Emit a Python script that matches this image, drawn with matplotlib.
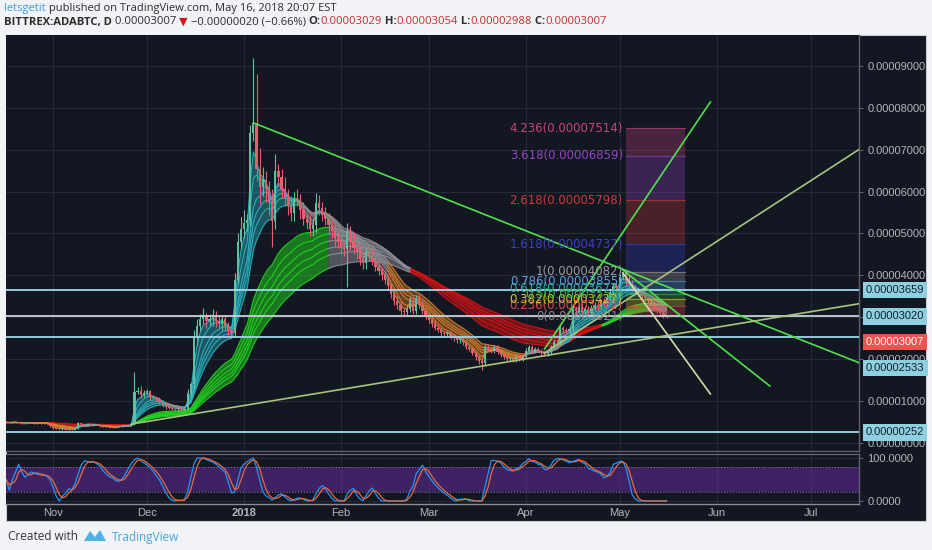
import numpy as np
import pandas as pd
import matplotlib
matplotlib.use('Agg')
import matplotlib.pyplot as plt
from matplotlib.patches import Rectangle, Polygon
from matplotlib.transforms import blended_transform_factory, offset_copy

W, H = 932, 550

# ADABTC daily closes in satoshi (1e-8 BTC), 17 Oct 2017 .. 16 May 2018
close_oct = [490, 480, 490, 500, 480, 470, 480, 490, 480, 470, 480, 470, 460, 470, 400]
close_nov = [350, 340, 330, 360, 320, 330, 310, 340, 470, 450, 440, 460, 440, 450, 430,
             400, 380, 390, 370, 360, 380, 400, 410, 420, 430, 450, 1220, 1250, 1150, 1200]
close_dec = [1230, 1100, 1080, 1050, 980, 900, 850, 840, 820, 800, 830, 790, 810, 1190, 1400,
             2500, 2800, 2950, 3000, 2900, 2950, 3050, 2900, 2850, 2950, 2800, 2700, 2620, 3900, 4800, 5100]
close_jan = [5250, 5320, 7400, 7640, 6550, 6100, 6280, 6050, 5750, 5300, 6500, 6350, 6050, 5850, 5650,
             5500, 5850, 5800, 5550, 5350, 5250, 5100, 5200, 5730, 5600, 5440, 5350, 5200, 5050, 4900, 4800]
close_feb = [4650, 4620, 5040, 4800, 4650, 4550, 4400, 4300, 4530, 4450, 4350, 4200, 4100, 4000,
             3900, 3750, 3550, 3400, 3300, 3150, 3130, 3200, 3410, 3150, 3460, 3300, 3150, 3050]
close_mar = [2940, 2850, 2750, 2700, 2620, 2600, 2620, 2550, 2500, 2450, 2480, 2400, 2300, 2250, 2150,
             2050, 1950, 1900, 2300, 2250, 2200, 2280, 2180, 2100, 2050, 2000, 2020, 1980, 2050, 2000, 2060]
close_apr = [2200, 2280, 2180, 2250, 2200, 2150, 2120, 2180, 2300, 2420, 2400, 2750, 2700, 2680, 2720,
             3200, 3150, 3250, 3120, 3200, 3100, 3220, 3300, 3250, 3380, 3350, 3480, 3600, 3750, 3700]
close_may = [3950, 4060, 3850, 3800, 3700, 3620, 3580, 3500, 3450, 3380, 3300, 3220, 3150, 3100, 3029, 3007]
first_open = 500

# upper / lower wick lengths in satoshi
up_oct = [10, 10, 15, 10, 10, 8, 10, 12, 10, 10, 8, 10, 10, 8, 10]
up_nov = [8, 10, 8, 20, 8, 10, 8, 15, 20, 10, 8, 12, 8, 10, 8, 10, 8, 10, 8, 8, 10, 12, 10, 8, 8, 10, 480, 80, 100, 60]
up_dec = [60, 40, 50, 40, 40, 50, 30, 30, 30, 30, 40, 30, 30, 110, 50, 200, 150, 120, 220, 100, 120, 150, 100, 120,
          80, 100, 80, 60, 150, 200, 300]
up_jan = [300, 150, 200, 1560, 1160, 500, 300, 200, 200, 300, 400, 150, 200, 300, 200, 250, 150, 200, 150, 200,
          150, 200, 150, 240, 200, 150, 200, 150, 150, 200, 150]
up_feb = [150, 150, 200, 150, 200, 150, 150, 150, 150, 200, 150, 120, 120, 100, 100, 100, 100, 100, 100, 100,
          80, 100, 80, 100, 80, 100, 80, 80]
up_mar = [80, 80, 60, 60, 60, 50, 60, 50, 60, 50, 60, 50, 50, 50, 50, 50, 50, 50, 40, 50, 50, 60, 50, 40, 40,
          40, 40, 40, 40, 40, 50]
up_apr = [60, 50, 50, 50, 50, 40, 40, 40, 50, 60, 40, 60, 50, 50, 60, 80, 80, 100, 80, 80, 80, 80, 60, 80, 60,
          80, 80, 80, 80, 80]
up_may = [80, 22, 80, 150, 80, 60, 60, 60, 60, 60, 50, 50, 50, 50, 25, 25]

lo_oct = [10, 10, 8, 10, 10, 10, 8, 10, 10, 8, 10, 10, 8, 10, 15]
lo_nov = [15, 10, 10, 8, 15, 8, 10, 8, 10, 10, 8, 10, 8, 10, 10, 10, 8, 10, 10, 8, 8, 8, 10, 8, 8, 8, 20, 60, 80, 60]
lo_dec = [60, 80, 50, 40, 60, 50, 40, 40, 40, 40, 30, 40, 30, 30, 80, 100, 150, 120, 100, 150, 100, 150, 120, 100,
          150, 120, 150, 100, 80, 100, 200]
lo_jan = [200, 200, 150, 200, 300, 400, 200, 300, 300, 620, 200, 200, 200, 200, 200, 200, 200, 150, 200, 150,
          150, 150, 150, 200, 150, 150, 150, 200, 150, 200, 150]
lo_feb = [150, 150, 900, 200, 150, 150, 150, 150, 150, 100, 100, 100, 100, 100, 100, 100, 100, 100, 100, 100,
          80, 80, 80, 80, 80, 80, 80, 80]
lo_mar = [80, 80, 60, 60, 60, 60, 60, 60, 60, 60, 60, 50, 50, 50, 60, 60, 60, 160, 60, 50, 50, 50, 50, 50, 40,
          40, 40, 40, 40, 40, 40]
lo_apr = [40, 40, 50, 40, 40, 40, 40, 50, 50, 50, 40, 60, 60, 60, 60, 80, 80, 80, 80, 80, 80, 80, 60, 80, 60,
          80, 80, 80, 80, 80]
lo_may = [80, 60, 80, 80, 80, 80, 60, 60, 60, 60, 60, 60, 50, 50, 40, 19]

# horizontal levels drawn on the chart
hlines = [0.00003659, 0.00003020, 0.00002533, 0.00000252]
last_price = 0.00003007

# fib extension
fib_zero, fib_one = 0.000030214, 0.000040820
fib_levels = [0, 0.236, 0.382, 0.5, 0.618, 0.786, 1, 1.618, 2.618, 3.618, 4.236]
fib_from, fib_to = '2018-05-03', '2018-05-22'

# trend lines (anchor dates / prices)
tl_d0 = ['2018-01-04', '2018-04-07', '2018-04-07', '2018-05-02', '2018-05-02', '2017-11-26']
tl_p0 = [0.0000764, 0.0000224, 0.0000215, 0.0000413, 0.0000406, 0.0000045]
tl_d1 = ['2018-07-17', '2018-05-30', '2018-07-17', '2018-06-18', '2018-05-30', '2018-07-17']
tl_p1 = [0.0000190, 0.0000814, 0.0000703, 0.0000136, 0.0000117, 0.0000333]

months = ['Nov', 'Dec', '2018', 'Feb', 'Mar', 'Apr', 'May', 'Jun', 'Jul']

# ---------------------------------------------------------------
closes = np.array(close_oct + close_nov + close_dec + close_jan + close_feb + close_mar + close_apr + close_may) * 1e-8
upw = np.array(up_oct + up_nov + up_dec + up_jan + up_feb + up_mar + up_apr + up_may) * 1e-8
low_w = np.array(lo_oct + lo_nov + lo_dec + lo_jan + lo_feb + lo_mar + lo_apr + lo_may) * 1e-8
opens = np.r_[first_open * 1e-8, closes[:-1]]
highs = np.maximum(opens, closes) + upw
lows = np.minimum(opens, closes) - low_w

t0 = pd.Timestamp('2018-01-01')
dates = pd.date_range('2017-10-17', periods=len(closes), freq='D')
x = (dates - t0).days.values.astype(float)
def dnum(s):
    return (pd.Timestamp(s) - t0).days

s = pd.Series(closes)
fast = np.array([s.ewm(span=n, adjust=False).mean().values for n in (3, 5, 8, 10, 12, 15)])
slow = np.array([s.ewm(span=n, adjust=False).mean().values for n in (30, 35, 40, 45, 50, 60)])
f_state = np.where((fast[0] > fast[-1]) & (fast[-1] > slow[0]), 1,
                   np.where((fast[0] < fast[-1]) & (fast[-1] < slow[-1]), -1, 0))
slope = np.r_[0, np.diff(slow[0])]
s_state = np.where((slow[0] > slow[-1]) & (slope > 0), 1, np.where(slow[0] < slow[-1], -1, 0))

# stochastic RSI 14/14/3/3
delta = s.diff().fillna(0)
ag = delta.clip(lower=0).ewm(alpha=1/14, adjust=False).mean()
al = (-delta.clip(upper=0)).ewm(alpha=1/14, adjust=False).mean()
rsi = 100 - 100 / (1 + ag / al.replace(0, np.nan))
rsi = rsi.fillna(50)
rl = rsi.rolling(14, min_periods=1).min()
rh = rsi.rolling(14, min_periods=1).max()
st = (100 * (rsi - rl) / (rh - rl).replace(0, np.nan)).fillna(50)
k = st.rolling(3, min_periods=1).mean()
d = k.rolling(3, min_periods=1).mean()

# ---------------------------------------------------------------
BG = '#131722'
GRID = '#262a35'
TXT = '#b2b5be'
fig = plt.figure(figsize=(W / 100, H / 100), dpi=100)
fig.patch.set_facecolor('#f1f3f6')
fig.patches.append(Rectangle((6 / W, 1 - 521 / H), 920 / W, 486 / H, transform=fig.transFigure,
                             facecolor=BG, edgecolor='#c9ccd3', lw=0.8, zorder=-5))

ax = fig.add_axes([6 / W, 1 - 451 / H, 853 / W, 416 / H])
ax2 = fig.add_axes([6 / W, 1 - 504 / H, 853 / W, 50 / H])
xl = ((6 - 244) / 3.13, (859 - 244) / 3.13)
month_x = [dnum(m) for m in pd.date_range('2017-11-01', '2018-07-01', freq='MS')]

for a in (ax, ax2):
    a.set_facecolor(BG)
    a.set_xlim(*xl)
    a.set_xticks(month_x)
    a.grid(True, color=GRID, lw=0.8)
    a.set_axisbelow(True)
    for sp in ('top', 'left'):
        a.spines[sp].set_visible(False)
    for sp in ('right', 'bottom'):
        a.spines[sp].set_color('#5d606b')
        a.spines[sp].set_linewidth(1.0)
    a.yaxis.tick_right()
    a.tick_params(axis='y', colors=TXT, labelsize=8, length=3, pad=3, color='#5d606b')
    a.tick_params(axis='x', length=0)
ax2.spines['top'].set_visible(True)
ax2.spines['top'].set_color('#6b6e78')
ax2.spines['bottom'].set_color('#8a8d96')

ax.set_ylim(-0.191e-5, 9.737e-5)
ax.set_yticks(np.arange(0, 9.5e-5, 1e-5))
ax.set_yticklabels([f'{v:.8f}' for v in np.arange(0, 9.5e-5, 1e-5)], family='Liberation Sans')
ax.set_xticklabels([])

# Guppy ribbons
def ribbon(lines, state, colors, alpha):
    lo, hi = lines.min(axis=0), lines.max(axis=0)
    for key, col in colors.items():
        m = state == key
        m = m | np.r_[m[1:], False]
        ax.fill_between(x, lo, hi, where=m, color=col, alpha=alpha, lw=0, zorder=2)
        for ln in lines:
            ax.plot(x, np.where(m, ln, np.nan), color=col, lw=0.8, alpha=0.9, zorder=2)

ribbon(slow, s_state, {1: '#22d81e', -1: '#d81313', 0: '#8f9196'}, 0.5)
ribbon(fast, f_state, {1: '#2ab7c6', -1: '#d9822b', 0: '#8f9196'}, 0.4)

# candles
up = closes >= opens
ccol = np.where(up, '#5fbf9f', '#e8606e')
ax.vlines(x, lows, highs, colors=ccol, lw=0.8, zorder=3)
ax.bar(x, np.maximum(np.abs(closes - opens), 2e-8), bottom=np.minimum(opens, closes), width=0.7,
       color=ccol, lw=0, zorder=3)

# horizontal lines
hl_cols = ['#9fd8ea', '#c8d2da', '#9fd8ea', '#9fd8ea']
for v, c in zip(hlines, hl_cols):
    ax.axhline(v, color=c, lw=1.3, zorder=4)

# fib extension
fib_cols = ['#8a8a8a', '#e04848', '#c8c838', '#40b040', '#30b0a0', '#5aa0e0', '#9a9a9a',
            '#3b3fc8', '#c83c3c', '#9545c0', '#c8457c']
fx0, fx1 = dnum(fib_from), dnum(fib_to)
fib_p = [fib_zero + lv * (fib_one - fib_zero) for lv in fib_levels]
for i in range(1, len(fib_p)):
    ax.fill_between([fx0, fx1], fib_p[i - 1], fib_p[i], color=fib_cols[i], alpha=0.3, lw=0, zorder=3.5)
lab_tr = offset_copy(ax.transData, fig=fig, x=-3, y=0, units='dots')
for lv, p, c in zip(fib_levels, fib_p, fib_cols):
    ax.plot([fx0, fx1], [p, p], color=c, lw=0.9, alpha=0.6, zorder=3.6)
    ax.text(fx0, p, f'{lv:g}({p:.8f})', color=c, fontsize=8.5, ha='right', va='center',
            transform=lab_tr, zorder=6)

# trend lines
tl_cols = ['#4fe04f', '#4fe04f', '#a9c27e', '#4fe04f', '#d8d8aa', '#a9c27e']
for a0, p0, a1, p1, c in zip(tl_d0, tl_p0, tl_d1, tl_p1, tl_cols):
    ax.plot([dnum(a0), dnum(a1)], [p0, p1], color=c, lw=1.2, zorder=5)

# right axis labels
bt = blended_transform_factory(ax.transAxes, ax.transData)
lab_dy = [0, 0, -31, 0]
lab_fc = ['#8fd0e0', '#8fd0e0', '#8fd0e0', '#8fd0e0']
for v, dy, fc in zip(hlines, lab_dy, lab_fc):
    ax.text(1.0, v, f'{v:.8f}', transform=offset_copy(bt, fig=fig, x=7, y=dy, units='dots'),
            ha='left', va='center', fontsize=8, color='#10202c', family='Liberation Sans', clip_on=False,
            zorder=10, bbox=dict(boxstyle='square,pad=0.28', fc=fc, ec='none'))
ax.text(1.0, last_price, f'{last_price:.8f}', transform=offset_copy(bt, fig=fig, x=7, y=-25, units='dots'),
        ha='left', va='center', fontsize=8, color='white', family='Liberation Sans', clip_on=False,
        zorder=11, bbox=dict(boxstyle='square,pad=0.28', fc='#ef5350', ec='none'))

# stoch RSI pane
ax2.set_ylim(-7, 109.3)
ax2.set_yticks([0, 100])
ax2.set_yticklabels(['0.0000', '100.0000'], family='Liberation Sans')
ax2.axhspan(20, 80, color='#5b2a91', alpha=0.6, lw=0, zorder=1)
for lv in (20, 80):
    ax2.axhline(lv, color='#8a7aa0', lw=0.7, ls=(0, (1, 2)), zorder=1.5)
ax2.plot(x, k, color='#2196f3', lw=0.9, zorder=3)
ax2.plot(x, d, color='#e8693a', lw=0.9, zorder=3)
ax2.set_xticklabels(months, family='Liberation Sans')
ax2.tick_params(axis='x', colors=TXT, labelsize=8, pad=3)
ax2.get_xticklabels()[2].set_fontweight('bold')

# header / footer texts
fig.canvas.draw()
rend = fig.canvas.get_renderer()
def pieces(x0, y0, items, size):
    xp = x0
    for txt, col, wt in items:
        t = fig.text(xp / W, 1 - y0 / H, txt, color=col, fontsize=size, fontweight=wt,
                     family=['Open Sans', 'DejaVu Sans'], ha='left', va='center')
        xp += t.get_window_extent(rend).width

DK = '#2c2c2c'
RED = '#c4302b'
pieces(4, 8, [('letsgetit', '#3ba0e0', 'normal'),
              (' published on TradingView.com, May 16, 2018 20:07 EST', DK, 'normal')], 8)
pieces(4, 22, [('BITTREX:ADABTC, D', DK, 'bold'), (' 0.00003007 ', DK, 'normal'), ('▼', '#d0161b', 'normal'),
               (' \u22120.00000020 (\u22120.66%) ', DK, 'normal'), ('O:', DK, 'bold'), ('0.00003029', RED, 'normal'),
               (' H:', DK, 'bold'), ('0.00003054', RED, 'normal'), (' L:', DK, 'bold'),
               ('0.00002988', RED, 'normal'), (' C:', DK, 'bold'), ('0.00003007', RED, 'normal')], 8.1)
pieces(8, 537, [('Created with', '#333333', 'normal')], 8.5)
fig.patches.append(Polygon([(84 / W, 1 - 541 / H), (90 / W, 1 - 531 / H), (95 / W, 1 - 537 / H),
                            (100 / W, 1 - 530 / H), (106 / W, 1 - 541 / H)], closed=True,
                           transform=fig.transFigure, facecolor='#4db3e6', edgecolor='none'))
pieces(112, 537, [('TradingView', '#3fa9e0', 'normal')], 8.5)

fig.savefig('out.png', dpi=100, facecolor=fig.get_facecolor())
